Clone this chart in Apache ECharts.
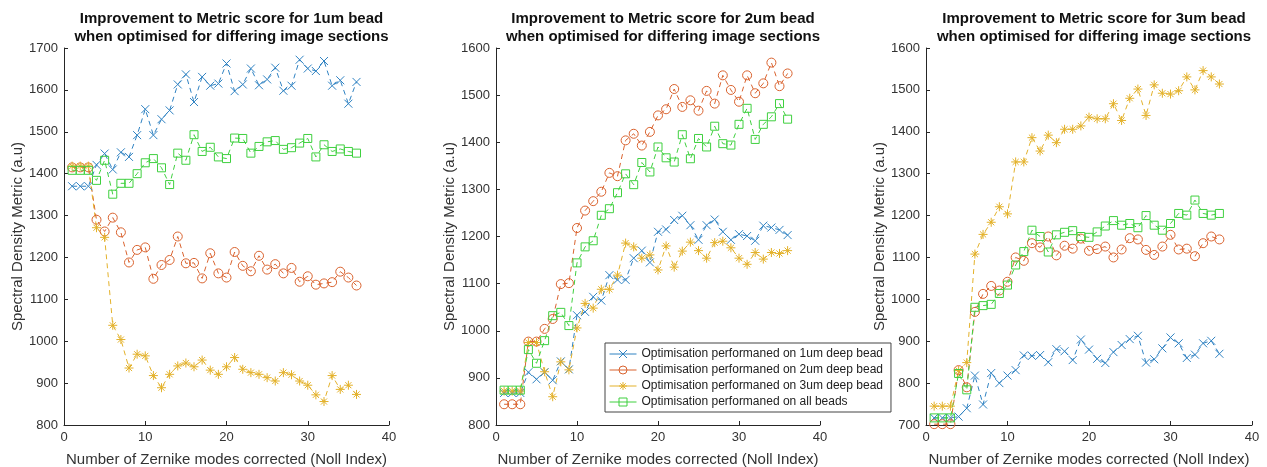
<!DOCTYPE html>
<html>
<head>
<meta charset="utf-8">
<script src="https://cdn.jsdelivr.net/npm/echarts@6/dist/echarts.min.js"></script>
<style>
  html, body { margin: 0; padding: 0; background: #fff; }
  #chart { width: 1267px; height: 467px; }
</style>
</head>
<body>
<div id="chart"></div>
<script>
// Noll index on the x axis
var nollIndex = [1,2,3,4,5,6,7,8,9,10,11,12,13,14,15,16,17,18,19,20,21,22,23,24,25,26,27,28,29,30,31,32,33,34,35,36];

var seriesNames = [
  'Optimisation performaned on 1um deep bead',
  'Optimisation performaned on 2um deep bead',
  'Optimisation performaned on 3um deep bead',
  'Optimisation performaned on all beads'
];

// 1um bead
var bead1Opt1 = [1370,1370,1370,1421,1448,1410,1451,1440,1492,1554,1492,1530,1551,1613,1637,1571,1631,1610,1615,1663,1597,1613,1651,1611,1625,1653,1598,1610,1672,1651,1645,1669,1610,1623,1567,1619];
var bead1Opt2 = [1415,1415,1415,1290,1262,1295,1260,1188,1218,1224,1149,1182,1194,1250,1186,1187,1150,1210,1162,1152,1213,1180,1167,1204,1171,1184,1162,1175,1142,1155,1135,1138,1141,1166,1152,1133];
var bead1Opt3 = [1418,1418,1418,1271,1248,1038,1004,936,969,965,918,889,921,941,948,939,955,931,921,939,961,933,925,921,913,905,925,920,905,895,872,856,918,885,895,873];
var bead1All  = [1408,1408,1408,1384,1432,1351,1377,1377,1400,1426,1436,1414,1374,1449,1432,1493,1453,1463,1440,1436,1485,1484,1449,1465,1476,1479,1458,1462,1473,1484,1440,1469,1453,1459,1453,1449];

// 2um bead
var bead2Opt1 = [868,868,868,912,897,912,895,935,918,1033,1040,1072,1064,1118,1108,1108,1154,1170,1145,1210,1215,1235,1244,1224,1193,1224,1236,1210,1193,1205,1201,1191,1223,1219,1214,1203];
var bead2Opt2 = [844,844,844,977,977,1004,1025,1099,1101,1218,1255,1275,1295,1335,1328,1404,1418,1393,1422,1457,1470,1513,1475,1489,1467,1509,1482,1542,1511,1486,1542,1504,1525,1569,1519,1546];
var bead2Opt3 = [872,872,872,975,975,913,860,934,917,1006,1058,1048,1088,1088,1118,1186,1178,1154,1161,1129,1180,1135,1169,1188,1170,1154,1187,1190,1176,1154,1141,1166,1152,1166,1164,1170];
var bead2All  = [874,874,874,960,931,979,1032,1039,1011,1144,1178,1191,1245,1259,1293,1333,1310,1357,1337,1390,1367,1358,1416,1365,1408,1390,1434,1397,1394,1438,1472,1406,1438,1454,1482,1449];

// 3um bead
var bead3Opt1 = [717,717,717,720,740,818,749,824,800,818,831,866,865,867,850,881,876,855,904,880,858,848,874,891,905,913,849,857,883,909,895,860,868,895,901,870];
var bead3Opt2 = [702,702,702,831,790,970,1013,1032,1021,1042,1100,1092,1134,1124,1150,1105,1128,1121,1145,1116,1120,1126,1100,1119,1146,1143,1118,1106,1126,1154,1119,1121,1103,1134,1150,1143];
var bead3Opt3 = [745,745,745,830,849,1108,1155,1184,1221,1204,1328,1328,1386,1354,1392,1374,1406,1406,1414,1435,1431,1431,1467,1427,1480,1502,1439,1512,1492,1490,1498,1531,1500,1546,1531,1514];
var bead3All  = [717,717,717,823,784,981,985,988,1014,1034,1082,1114,1165,1150,1113,1154,1160,1164,1150,1148,1161,1175,1188,1177,1181,1171,1200,1177,1165,1181,1205,1201,1237,1205,1201,1205];

var titles = [
  'Improvement to Metric score for 1um bead\nwhen optimised for differing image sections',
  'Improvement to Metric score for 2um bead\nwhen optimised for differing image sections',
  'Improvement to Metric score for 3um bead\nwhen optimised for differing image sections'
];
var yRanges = [[800, 1700], [800, 1600], [700, 1600]];

var colors = ['#2f82c2', '#d9622e', '#e3b12a', '#3fd03f'];
var symbols = [
  'path://M0,0L10,10M10,0L0,10',
  'circle',
  'path://M5,0L5,10M0,5L10,5M1.6,1.6L8.4,8.4M8.4,1.6L1.6,8.4',
  'rect'
];
var sizes = [8, 9, 9, 8];

var panels = [
  [bead1Opt1, bead1Opt2, bead1Opt3, bead1All],
  [bead2Opt1, bead2Opt2, bead2Opt3, bead2All],
  [bead3Opt1, bead3Opt2, bead3Opt3, bead3All]
];

var gridLefts = [64, 496, 926];
var gridWidths = [325, 324, 326];
var font = 'Liberation Sans, Arial, sans-serif';
var axisCol = '#262626';

var option = {
  animation: false,
  textStyle: { fontFamily: font },
  title: [],
  grid: [],
  xAxis: [],
  yAxis: [],
  series: [],
  legend: {
    data: seriesNames,
    left: 605,
    top: 343,
    width: 286,
    orient: 'vertical',
    selectedMode: false,
    backgroundColor: '#fff',
    borderColor: '#444',
    borderWidth: 1,
    borderRadius: 0,
    padding: [4, 8, 3, 4],
    itemWidth: 27,
    itemHeight: 10,
    itemGap: 2,
    lineStyle: { type: 'solid', width: 1 },
    itemStyle: { color: 'rgba(255,255,255,0)', borderWidth: 1 },
    textStyle: { fontFamily: font, fontSize: 12, color: '#222', lineHeight: 14 }
  }
};

for (var p = 0; p < 3; p++) {
  option.title.push({
    text: titles[p],
    left: gridLefts[p] + gridWidths[p] / 2,
    top: 5,
    textAlign: 'center',
    textStyle: { fontFamily: font, fontSize: 15, fontWeight: 'bold', color: '#111', lineHeight: 18 }
  });
  option.grid.push({
    left: gridLefts[p], top: 48, width: gridWidths[p], height: 377,
    outerBoundsMode: 'none'
  });
  option.xAxis.push({
    type: 'value', gridIndex: p, min: 0, max: 40, interval: 10,
    name: 'Number of Zernike modes corrected (Noll Index)',
    nameLocation: 'middle', nameGap: 27,
    nameTextStyle: { fontFamily: font, fontSize: 15, color: '#333' },
    axisLine: { onZero: false, lineStyle: { color: axisCol, width: 1 } },
    axisTick: { inside: true, length: 4, lineStyle: { color: axisCol } },
    axisLabel: { fontFamily: font, fontSize: 13, color: '#333', margin: 6 },
    splitLine: { show: false }
  });
  option.yAxis.push({
    type: 'value', gridIndex: p, min: yRanges[p][0], max: yRanges[p][1], interval: 100,
    name: 'Spectral Density Metric (a.u)',
    nameLocation: 'middle', nameGap: 35,
    nameTextStyle: { fontFamily: font, fontSize: 15, color: '#333' },
    axisLine: { show: true, lineStyle: { color: axisCol, width: 1 } },
    axisTick: { show: true, inside: true, length: 4, lineStyle: { color: axisCol } },
    axisLabel: { fontFamily: font, fontSize: 13, color: '#333', margin: 6,
      formatter: function (v) { return String(v); } },
    splitLine: { show: false }
  });
  for (var s = 0; s < 4; s++) {
    var vals = panels[p][s];
    option.series.push({
      name: seriesNames[s],
      type: 'line',
      xAxisIndex: p,
      yAxisIndex: p,
      data: nollIndex.map(function (n, i) { return [n, vals[i]]; }),
      symbol: symbols[s],
      symbolSize: sizes[s],
      showAllSymbol: true,
      lineStyle: { color: colors[s], width: 1, type: [5, 4] },
      itemStyle: { color: 'rgba(255,255,255,0)', borderColor: colors[s], borderWidth: 1 }
    });
  }
}

var chart = echarts.init(document.getElementById('chart'));
chart.setOption(option);
</script>
</body>
</html>
